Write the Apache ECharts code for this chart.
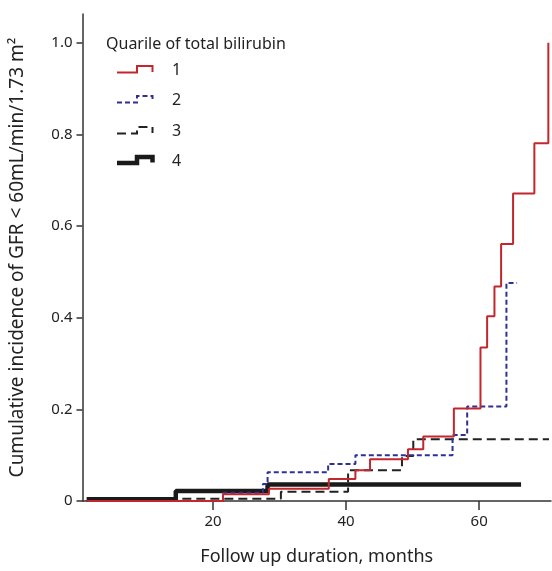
<!DOCTYPE html>
<html>
<head>
<meta charset="utf-8">
<script src="https://cdn.jsdelivr.net/npm/echarts@6/dist/echarts.min.js"></script>
<style>html,body{margin:0;padding:0;background:#fff}#c{width:552px;height:571px}</style>
</head>
<body>
<div id="c"></div>
<script>
// Data (month, cumulative incidence)
const q1 = [[1,0],[21.5,0.015],[28.4,0.027],[37.4,0.048],[41.4,0.067],[43.6,0.091],[49.3,0.113],[51.6,0.141],[56.2,0.202],[60.2,0.335],[61.2,0.403],[62.3,0.468],[63.3,0.561],[65.1,0.671],[68.3,0.781],[70.4,1.0]];
const q2 = [[1,0],[21.5,0.018],[27.5,0.037],[28.2,0.063],[37.3,0.081],[41.4,0.100],[56.0,0.144],[58.2,0.206],[64.1,0.476],[65.7,0.476]];
const q3 = [[1,0],[14.6,0.005],[30.2,0.020],[40.3,0.067],[48.4,0.098],[50.1,0.135],[70.5,0.135]];
const q4 = [[1,0.004],[14.4,0.022],[28.2,0.036],[66.3,0.036]];
const seriesNames = ['1','2','3','4'];
const xTicks = [20,40,60];
const yTicks = [0,0.2,0.4,0.6,0.8,1.0];
const legendTitle = 'Quarile of total bilirubin';
const xName = 'Follow up duration, months';
const yName = 'Cumulative incidence of GFR < 60mL/min/1.73 m²';

const FONT = 'Noto Sans';
const colors = ['#c1272d','#2e3192','#222222','#1a1a1a'];
const styles = [
  {width:2, type:'solid'},
  {width:2, type:[5,3]},
  {width:2, type:[9,5]},
  {width:4.5, type:'solid'}
];
const datas = [q1,q2,q3,q4];

const chart = echarts.init(document.getElementById('c'));
const series = datas.map((d,i)=>({
  name: seriesNames[i], type:'line', step:'end', data:d, showSymbol:false, symbol:'none',
  lineStyle:{color:colors[i], width:styles[i].width, type:styles[i].type, cap:'butt'},
  z: 10-i, animation:false
}));

// legend drawn as graphics
const legendRows = [
  {low:72.5, high:66},
  {low:102.5, high:96},
  {low:133.5, high:127},
  {low:163, high:157}
];
const graphics = [{
  type:'text', left:106, top:36,
  style:{text:legendTitle, font:'16px "'+FONT+'"', fill:'#222'}
}];
legendRows.forEach((r,i)=>{
  graphics.push({
    type:'polyline',
    shape:{points:[[117,r.low],[137,r.low],[137,r.high],[152.5,r.high],[152.5,r.low-0.5]]},
    style:{stroke:colors[i], lineWidth:styles[i].width, lineDash: Array.isArray(styles[i].type)?styles[i].type:null, fill:null}
  });
  graphics.push({
    type:'text', left:172, top:r.low-10,
    style:{text:seriesNames[i], font:'16px "'+FONT+'"', fill:'#222'}
  });
});

chart.setOption({
  animation:false,
  grid:{left:82.5, right:1, top:14, bottom:66},
  xAxis:{
    type:'value', min:0.38, max:70.8,
    name:xName, nameLocation:'middle', nameGap:47,
    nameTextStyle:{fontFamily:FONT, fontSize:18, color:'#222'},
    axisLine:{show:true, lineStyle:{color:'#333', width:1.5}},
    axisTick:{show:true, length:9, customValues:xTicks, lineStyle:{color:'#333', width:1.5}},
    axisLabel:{customValues:xTicks, fontFamily:FONT, fontSize:15, color:'#222', margin:13},
    splitLine:{show:false}
  },
  yAxis:{
    type:'value', min:0, max:1.063,
    name:yName, nameLocation:'middle', nameGap:55,
    nameTextStyle:{fontFamily:FONT, fontSize:19, color:'#222'},
    axisLine:{show:true, lineStyle:{color:'#333', width:1.5}},
    axisTick:{show:true, length:6, customValues:yTicks, lineStyle:{color:'#333', width:1.5}},
    axisLabel:{customValues:yTicks, fontFamily:FONT, fontSize:15, color:'#222', margin:10,
      formatter:v=> v===0?'0':v.toFixed(1)},
    splitLine:{show:false}
  },
  graphic:graphics,
  series:series
});
</script>
</body>
</html>
